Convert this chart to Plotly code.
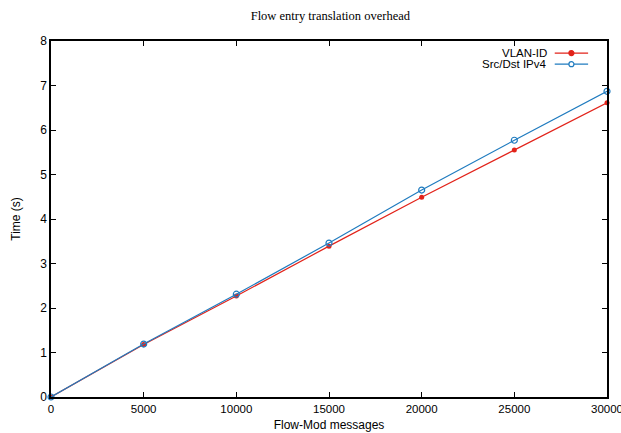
import plotly.graph_objects as go

flow_mods = [0, 5000, 10000, 15000, 20000, 25000, 30000]
vlan_id = [0.0, 1.18, 2.27, 3.39, 4.49, 5.55, 6.61]
src_dst_ipv4 = [0.0, 1.19, 2.31, 3.46, 4.65, 5.77, 6.87]
series_names = ["VLAN-ID", "Src/Dst IPv4"]
x_ticks = [0, 5000, 10000, 15000, 20000, 25000, 30000]
y_ticks = [0, 1, 2, 3, 4, 5, 6, 7, 8]

RED = "#e2231a"
BLUE = "#1f7bbf"

fig = go.Figure()
fig.add_trace(go.Scatter(x=flow_mods, y=vlan_id, mode="lines+markers", name=series_names[0],
                         line=dict(color=RED, width=1.2),
                         marker=dict(symbol="circle", size=5, color=RED), showlegend=False,
                         cliponaxis=False))
fig.add_trace(go.Scatter(x=flow_mods, y=src_dst_ipv4, mode="lines+markers", name=series_names[1],
                         line=dict(color=BLUE, width=1.2),
                         marker=dict(symbol="circle-open", size=6, color=BLUE, line=dict(width=1.2)),
                         showlegend=False, cliponaxis=False))

# gnuplot-style legend: text right-aligned, sample on the right
leg_y = [0.966, 0.935]
for name, col, yy, filled in [(series_names[0], RED, leg_y[0], True), (series_names[1], BLUE, leg_y[1], False)]:
    fig.add_annotation(x=0.896, y=yy, xref="paper", yref="paper", text=name, showarrow=False,
                       xanchor="right", yanchor="middle",
                       font=dict(family="Liberation Sans, Arial", size=11.5, color="#000"))
    fig.add_shape(type="line", xref="paper", yref="paper", x0=0.906, x1=0.966, y0=yy, y1=yy,
                  line=dict(color=col, width=1.2))
    fig.add_shape(type="circle", xref="paper", yref="paper", x0=0.936 - 0.0045, x1=0.936 + 0.0045,
                  y0=yy - 0.007, y1=yy + 0.007,
                  line=dict(color=col, width=1.2), fillcolor=col if filled else "white")

fig.update_layout(
    width=621, height=433,
    margin=dict(l=51, r=14, t=41, b=36),
    paper_bgcolor="white", plot_bgcolor="white",
    title=dict(text="Flow entry translation overhead", x=0.532, xanchor="center", y=0.963, yanchor="middle",
               font=dict(family="Liberation Serif, Times New Roman", size=12.5, color="#000")),
    font=dict(family="Liberation Sans, Arial", size=12, color="#000"),
)
fig.update_xaxes(range=[0, 30000], tickvals=x_ticks, ticktext=[str(v) for v in x_ticks],
                 ticks="inside", ticklen=5, tickcolor="#000", showline=True, linecolor="#000", linewidth=1.5,
                 mirror="allticks", showgrid=False, zeroline=False, automargin=False,
                 ticklabeloverflow="allow", tickfont=dict(size=11.5),
                 title=dict(text="Flow-Mod messages", standoff=7, font=dict(size=12)))
fig.update_yaxes(range=[0, 8], tickvals=y_ticks, ticks="inside", ticklen=5, tickcolor="#000",
                 showline=True, linecolor="#000", linewidth=1.5, mirror="allticks",
                 showgrid=False, zeroline=False, automargin=False, ticklabeloverflow="allow",
                 title=dict(text="Time (s)", standoff=17, font=dict(size=12)))

fig.write_html("out.html", config={"displayModeBar": False},
               post_script="document.body.style.margin='0';document.body.style.padding='0';")
